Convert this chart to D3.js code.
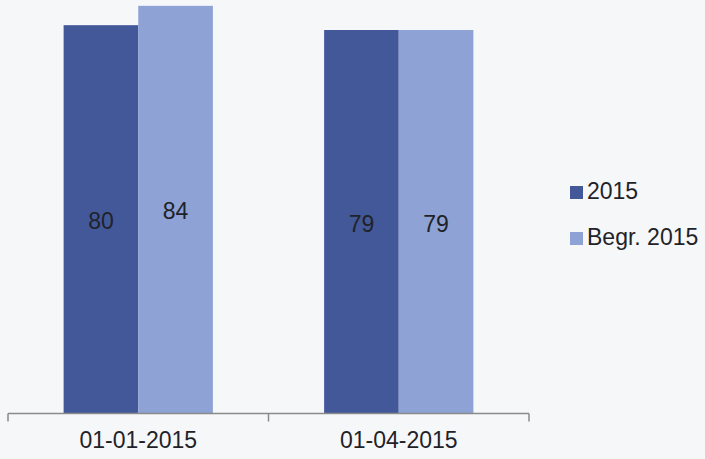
<!DOCTYPE html>
<html>
<head>
<meta charset="utf-8">
<script src="https://cdn.jsdelivr.net/npm/d3@7"></script>
<style>
  html, body { margin: 0; padding: 0; background: #f6f7f9; }
  svg { display: block; font-family: "Liberation Sans", Arial, sans-serif; }
</style>
</head>
<body>
<svg id="chart" width="705" height="459"></svg>
<script>
const categories = ["01-01-2015", "01-04-2015"];
const seriesNames = ["2015", "Begr. 2015"];
const values2015 = [80, 79];
const valuesBegr = [84, 79];
const colors = ["#435899", "#8ea2d6"];

const svg = d3.select("#chart");
const W = 705, H = 459;
svg.append("rect").attr("width", W).attr("height", H).attr("fill", "#f6f7f9");

const baseY = 412;
const y = d3.scaleLinear().domain([0, 85]).range([baseY, 1]);
const x = d3.scaleBand().domain(categories).range([8, 529])
  .paddingInner(0.427).paddingOuter(0.2135);
const xs = d3.scaleBand().domain(seriesNames).range([0, x.bandwidth()]).padding(0);

const data = categories.map((c, i) => ({
  cat: c,
  vals: [
    { s: seriesNames[0], v: values2015[i] },
    { s: seriesNames[1], v: valuesBegr[i] }
  ]
}));

const g = svg.selectAll("g.cat").data(data).enter().append("g")
  .attr("class", "cat")
  .attr("transform", d => `translate(${x(d.cat)},0)`);

g.selectAll("rect").data(d => d.vals).enter().append("rect")
  .attr("x", d => xs(d.s))
  .attr("width", xs.bandwidth())
  .attr("y", d => y(d.v))
  .attr("height", d => baseY - y(d.v) + 1)
  .attr("fill", (d, i) => colors[i]);

g.selectAll("text.val").data(d => d.vals).enter().append("text")
  .attr("class", "val")
  .attr("x", d => xs(d.s) + xs.bandwidth() / 2)
  .attr("y", d => (y(d.v) + baseY) / 2 + 10.5)
  .attr("text-anchor", "middle")
  .attr("font-size", 23)
  .attr("fill", "#1f2328")
  .text(d => d.v);

// axis
const axisY = 413.5;
const axisG = svg.append("g").attr("transform", `translate(0,${axisY})`)
  .call(d3.axisBottom(x).tickSize(0).tickPadding(18));
axisG.select(".domain").remove();
axisG.selectAll("text")
  .attr("font-size", 23)
  .attr("font-family", "Liberation Sans, Arial, sans-serif")
  .attr("fill", "#1f2328")
  .attr("dy", "0.71em");

const [r0, r1] = x.range();
svg.append("line").attr("x1", r0).attr("x2", r1).attr("y1", axisY).attr("y2", axisY)
  .attr("stroke", "#8a8a8a").attr("stroke-width", 1.5);
const boundaries = [r0].concat(categories.map(c => x(c) - x.step() * x.paddingInner() / 2 + x.step()));
boundaries[boundaries.length - 1] = r1;
svg.selectAll("line.tick").data(boundaries).enter().append("line")
  .attr("class", "tick")
  .attr("x1", d => d).attr("x2", d => d)
  .attr("y1", axisY).attr("y2", axisY + 8)
  .attr("stroke", "#8a8a8a").attr("stroke-width", 1.5);

// legend
const legend = svg.append("g").attr("transform", "translate(570,186)");
const li = legend.selectAll("g").data(seriesNames).enter().append("g")
  .attr("transform", (d, i) => `translate(0,${i * 46})`);
li.append("rect").attr("width", 13).attr("height", 13).attr("fill", (d, i) => colors[i]);
li.append("text").attr("x", 17).attr("y", 12.5)
  .attr("font-size", 23).attr("fill", "#1f2328").text(d => d);
</script>
</body>
</html>
